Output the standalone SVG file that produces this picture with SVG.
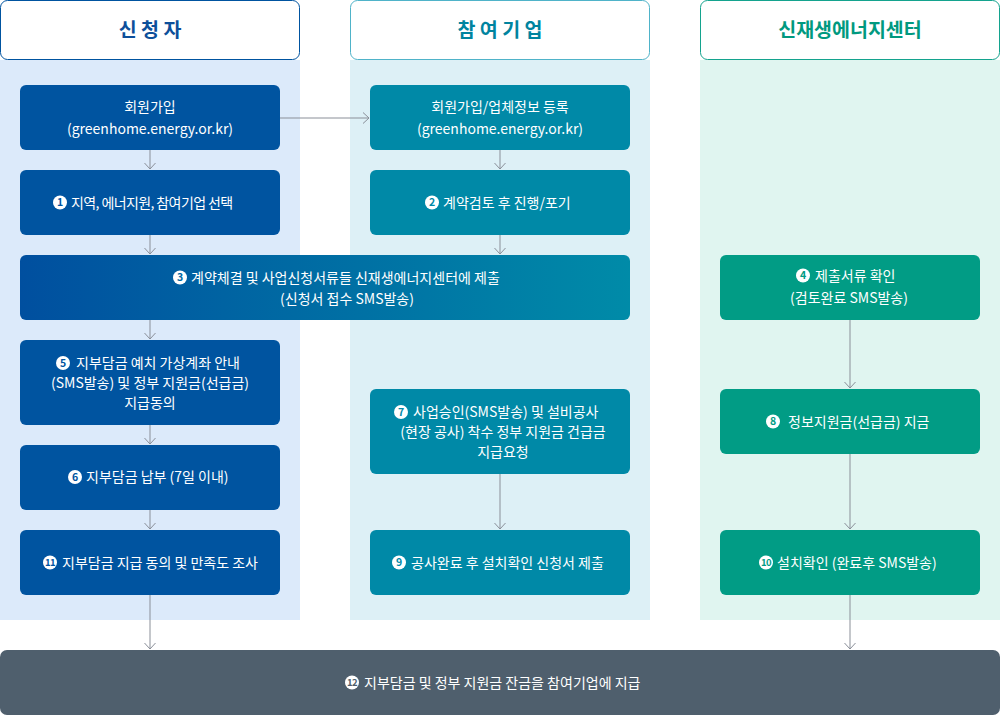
<svg xmlns="http://www.w3.org/2000/svg" width="1000" height="715" viewBox="0 0 1000 715">
<defs>
<linearGradient id="g3" x1="0" y1="0" x2="1" y2="0">
<stop offset="0" stop-color="#004f9f"/>
<stop offset="1" stop-color="#008ba8"/>
</linearGradient>
<marker id="ah" viewBox="0 0 12 12" refX="11" refY="6" markerWidth="12" markerHeight="12" markerUnits="userSpaceOnUse" orient="auto">
<path d="M5,0.5 L11,6 L5,11.5" fill="none" stroke="#8a8f98" stroke-width="1"/>
</marker>
</defs>
<style>
text{font-family:"Noto Sans CJK KR","Noto Sans",sans-serif;}
.hd{font-size:19.5px;font-weight:700;text-anchor:middle;}
.t{font-size:14px;fill:#ffffff;text-anchor:middle;}
.s{font-size:14px;fill:#ffffff;text-anchor:start;}
.n{font-size:10.5px;font-weight:700;text-anchor:middle;}
.c{fill:#ffffff;}
.blue{fill:#0054a0;}
.teal{fill:#0089a7;}
.green{fill:#019c85;}
.dark{fill:#4f5f6d;}
.conn line{stroke:#8a8f98;stroke-width:1;fill:none;marker-end:url(#ah);}
</style>

<!-- column backgrounds -->
<rect x="0" y="60" width="300" height="560" fill="#dceafa"/>
<rect x="350" y="60" width="300" height="560" fill="#ddf0f6"/>
<rect x="700" y="60" width="300" height="560" fill="#e0f5f0"/>

<!-- headers -->
<g id="hdr1">
<rect x="0.5" y="0.5" width="299" height="59" rx="7" fill="#ffffff" stroke="#0054a0"/>
<text class="hd" x="150" y="37" fill="#0d4f9a">신 청 자</text>
</g>
<g id="hdr2">
<rect x="350.5" y="0.5" width="299" height="59" rx="7" fill="#ffffff" stroke="#4fb3c9"/>
<text class="hd" x="500" y="37" fill="#00849f">참 여 기 업</text>
</g>
<g id="hdr3">
<rect x="700.5" y="0.5" width="299" height="59" rx="7" fill="#ffffff" stroke="#14a38e"/>
<text class="hd" x="850" y="37" fill="#00997f">신재생에너지센터</text>
</g>

<!-- connectors -->
<g class="conn" id="connectors">
<line x1="280" y1="118" x2="369" y2="118"/>
<line x1="150" y1="150" x2="150" y2="169"/>
<line x1="150" y1="235" x2="150" y2="254"/>
<line x1="150" y1="320" x2="150" y2="339"/>
<line x1="150" y1="425" x2="150" y2="444"/>
<line x1="150" y1="510" x2="150" y2="529"/>
<line x1="150" y1="595" x2="150" y2="649"/>
<line x1="500" y1="150" x2="500" y2="169"/>
<line x1="500" y1="235" x2="500" y2="254"/>
<line x1="500" y1="474" x2="500" y2="529"/>
<line x1="850" y1="320" x2="850" y2="388"/>
<line x1="850" y1="454" x2="850" y2="529"/>
<line x1="850" y1="595" x2="850" y2="649"/>
</g>

<!-- nodes -->
<g id="n-join">
<rect class="blue" x="20" y="85" width="260" height="65" rx="6"/>
<text class="t" x="150" y="111.5">회원가입</text>
<text class="t" x="150" y="133.5">(greenhome.energy.or.kr)</text>
</g>
<g id="n1">
<rect class="blue" x="20" y="170" width="260" height="65" rx="6"/>
<circle class="c" cx="60" cy="202.5" r="7"/>
<text class="n blue" x="60" y="206.3">1</text>
<text class="s" x="71" y="207.5" style="letter-spacing:-0.6px">지역, 에너지원, 참여기업 선택</text>
</g>
<g id="n-cjoin">
<rect class="teal" x="370" y="85" width="260" height="65" rx="6"/>
<text class="t" x="500" y="111.5">회원가입/업체정보 등록</text>
<text class="t" x="500" y="133.5">(greenhome.energy.or.kr)</text>
</g>
<g id="n2">
<rect class="teal" x="370" y="170" width="260" height="65" rx="6"/>
<circle class="c" cx="432" cy="202.5" r="7"/>
<text class="n teal" x="432" y="206.3">2</text>
<text class="s" x="443" y="207.5">계약검토 후 진행/포기</text>
</g>
<g id="n3">
<rect x="20" y="255" width="610" height="65" rx="6" fill="url(#g3)"/>
<circle class="c" cx="180" cy="277.5" r="7"/>
<text class="n" x="180" y="281.3" fill="#0069a4">3</text>
<text class="s" x="191" y="282.5">계약체결 및 사업신청서류들 신재생에너지센터에 제출</text>
<text class="t" x="347" y="303.5">(신청서 접수 SMS발송)</text>
</g>
<g id="n4">
<rect class="green" x="720" y="255" width="260" height="65" rx="6"/>
<circle class="c" cx="803" cy="275.5" r="7"/>
<text class="n green" x="803" y="279.3">4</text>
<text class="s" x="815" y="280.5">제출서류 확인</text>
<text class="t" x="849" y="302.5">(검토완료 SMS발송)</text>
</g>
<g id="n5">
<rect class="blue" x="20" y="340" width="260" height="85" rx="6"/>
<circle class="c" cx="63" cy="363" r="7"/>
<text class="n blue" x="63" y="366.8">5</text>
<text class="s" x="76" y="368">지부담금 예치 가상계좌 안내</text>
<text class="t" x="150" y="388">(SMS발송) 및 정부 지원금(선급금)</text>
<text class="t" x="150" y="407.5">지급동의</text>
</g>
<g id="n6">
<rect class="blue" x="20" y="445" width="260" height="65" rx="6"/>
<circle class="c" cx="75" cy="477" r="7"/>
<text class="n blue" x="75" y="480.8">6</text>
<text class="s" x="86" y="482">지부담금 납부 (7일 이내)</text>
</g>
<g id="n7">
<rect class="teal" x="370" y="389" width="260" height="85" rx="6"/>
<circle class="c" cx="401" cy="412" r="7"/>
<text class="n teal" x="401" y="415.8">7</text>
<text class="s" x="413" y="417">사업승인(SMS발송) 및 설비공사</text>
<text class="t" x="503" y="437">(현장 공사) 착수 정부 지원금 건급금</text>
<text class="t" x="503" y="456.5">지급요청</text>
</g>
<g id="n8">
<rect class="green" x="720" y="389" width="260" height="65" rx="6"/>
<circle class="c" cx="773" cy="421.5" r="7"/>
<text class="n green" x="773" y="425.3">8</text>
<text class="s" x="788" y="426.5">정보지원금(선급금) 지금</text>
</g>
<g id="n11">
<rect class="blue" x="20" y="530" width="260" height="65" rx="6"/>
<circle class="c" cx="50" cy="562.5" r="7"/>
<text class="n blue" x="50" y="566" style="font-size:9.5px;letter-spacing:-0.5px">11</text>
<text class="s" x="62" y="567.5">지부담금 지급 동의 및 만족도 조사</text>
</g>
<g id="n9">
<rect class="teal" x="370" y="530" width="260" height="65" rx="6"/>
<circle class="c" cx="399" cy="562.5" r="7"/>
<text class="n teal" x="399" y="566.3">9</text>
<text class="s" x="411" y="567.5">공사완료 후 설치확인 신청서 제출</text>
</g>
<g id="n10">
<rect class="green" x="720" y="530" width="260" height="65" rx="6"/>
<circle class="c" cx="766" cy="562.5" r="7"/>
<text class="n green" x="766" y="566" style="font-size:9.5px;letter-spacing:-0.5px">10</text>
<text class="s" x="777" y="567.5">설치확인 (완료후 SMS발송)</text>
</g>
<g id="n12">
<rect class="dark" x="0" y="650" width="1000" height="65" rx="7"/>
<circle class="c" cx="352" cy="682.5" r="7"/>
<text class="n dark" x="352" y="686" style="font-size:9.5px;letter-spacing:-0.5px">12</text>
<text class="s" x="364" y="687.5">지부담금 및 정부 지원금 잔금을 참여기업에 지급</text>
</g>
</svg>
